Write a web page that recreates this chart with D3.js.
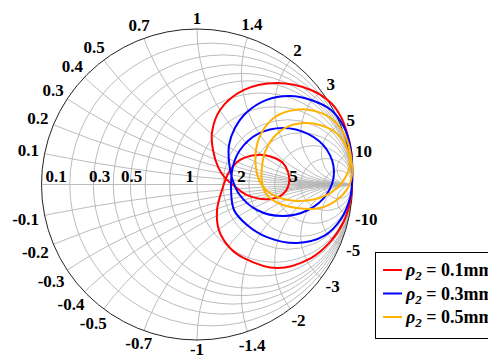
<!DOCTYPE html>
<html>
<head>
<meta charset="utf-8">
<script src="https://cdn.jsdelivr.net/npm/d3@7"></script>
<style>
  body { margin: 0; background: #fff; }
  text { font-family: "Liberation Serif", "Times New Roman", serif; font-weight: bold; }
</style>
</head>
<body>
<div id="chart"></div>
<script>
// grid values of the smith chart
var resistanceValues = [0.1, 0.2, 0.3, 0.4, 0.5, 0.7, 1, 1.4, 2, 3, 5, 10];
var reactanceValues = [0.1, 0.2, 0.3, 0.4, 0.5, 0.7, 1, 1.4, 2, 3, 5, 10];
var resistanceLabels = [0.1, 0.3, 0.5, 1, 2, 5];
var reactanceLabels = [0.1, 0.2, 0.3, 0.4, 0.5, 0.7, 1, 1.4, 2, 3, 5, 10];

// reflection coefficient traces [re, im]
var rho01 = [[0.997,0.125],[0.990,0.222],[0.965,0.331],[0.926,0.434],[0.862,0.524],[0.733,0.608],
  [0.514,0.653],[0.302,0.608],[0.148,0.479],[0.096,0.331],[0.103,0.222],[0.135,0.113],[0.180,0.042],
  [0.232,-0.003],[0.322,-0.068],[0.469,-0.093],[0.553,-0.061],[0.592,0.010],[0.585,0.080],[0.553,0.138],
  [0.482,0.177],[0.386,0.190],[0.277,0.158],[0.206,0.080],[0.161,-0.035],[0.129,-0.164],[0.141,-0.293],
  [0.212,-0.408],[0.302,-0.473],[0.514,-0.537],[0.733,-0.473],[0.862,-0.363],[0.945,-0.235],[0.990,-0.087],
  [0.998,0.016]];
var rho03 = [[0.997,0.157],[0.984,0.254],[0.945,0.370],[0.862,0.479],[0.733,0.543],[0.598,0.569],
  [0.444,0.543],[0.322,0.466],[0.244,0.363],[0.206,0.254],[0.206,0.145],[0.225,0.042],
  [0.270,-0.061],[0.386,-0.164],[0.553,-0.203],[0.714,-0.164],[0.836,-0.061],[0.881,0.080],
  [0.836,0.222],[0.714,0.325],[0.553,0.363],[0.392,0.325],[0.277,0.222],[0.232,0.119],
  [0.219,-0.035],[0.238,-0.164],[0.322,-0.260],[0.450,-0.338],[0.643,-0.376],[0.817,-0.331],
  [0.926,-0.222],[0.984,-0.087],[0.998,0.029]];
var rho05 = [[0.997,0.125],[0.965,0.286],[0.875,0.415],[0.759,0.473],[0.624,0.479],[0.502,0.434],
  [0.418,0.338],[0.379,0.222],[0.379,0.106],[0.399,0.029],[0.444,-0.035],[0.534,-0.087],[0.643,-0.106],
  [0.765,-0.093],[0.875,-0.042],[0.952,0.042],[0.984,0.138],[0.958,0.248],[0.887,0.338],[0.791,0.383],
  [0.688,0.395],[0.579,0.370],[0.489,0.299],[0.437,0.209],[0.418,0.113],[0.418,0.016],[0.444,-0.061],
  [0.521,-0.119],[0.643,-0.151],[0.791,-0.151],[0.907,-0.093],[0.977,-0.010],[0.997,0.068]];

var seriesNames = ["0.1mm", "0.3mm", "0.5mm"];
var seriesData = [rho01, rho03, rho05];
var seriesColors = ["#ff0000", "#0000ff", "#ffb300"];

var width = 488, height = 356;
var cx = 197, cy = 184.5, R = 155.5;

var svg = d3.select("#chart").append("svg")
    .attr("width", width)
    .attr("height", height);

var xs = d3.scaleLinear().domain([-1, 1]).range([cx - R, cx + R]);
var ys = d3.scaleLinear().domain([-1, 1]).range([cy + R, cy - R]);

function gamma(r, x) {
  var d = (r + 1) * (r + 1) + x * x;
  return [(r * r + x * x - 1) / d, 2 * x / d];
}

svg.append("clipPath").attr("id", "disk")
  .append("circle")
    .attr("cx", xs(0)).attr("cy", ys(0)).attr("r", xs(1) - xs(0));

var grid = svg.append("g")
    .attr("clip-path", "url(#disk)")
    .attr("fill", "none")
    .attr("stroke", "#b4b4b4")
    .attr("stroke-width", 0.9);

// constant resistance circles
grid.selectAll(".rcirc")
  .data(resistanceValues)
  .enter().append("circle")
    .attr("cx", function(v) { return xs(v / (1 + v)); })
    .attr("cy", ys(0))
    .attr("r", function(v) { return xs(1 / (1 + v)) - xs(0); });

// constant reactance arcs, both signs
var xArcs = [];
reactanceValues.forEach(function(v) { xArcs.push(v); xArcs.push(-v); });
grid.selectAll(".xcirc")
  .data(xArcs)
  .enter().append("circle")
    .attr("cx", xs(1))
    .attr("cy", function(v) { return ys(1 / v); })
    .attr("r", function(v) { return xs(1 / Math.abs(v)) - xs(0); });

grid.append("line")
    .attr("x1", xs(-1)).attr("x2", xs(1))
    .attr("y1", ys(0)).attr("y2", ys(0));

// outer boundary
svg.append("circle")
    .attr("cx", xs(0)).attr("cy", ys(0)).attr("r", xs(1) - xs(0))
    .attr("fill", "none")
    .attr("stroke", "#222")
    .attr("stroke-width", 1);

// traces
var line = d3.line()
    .x(function(d) { return xs(d[0]); })
    .y(function(d) { return ys(d[1]); })
    .curve(d3.curveCatmullRomClosed.alpha(0.5));

svg.append("g").selectAll("path")
  .data(seriesData)
  .enter().append("path")
    .attr("d", line)
    .attr("fill", "none")
    .attr("stroke", function(d, i) { return seriesColors[i]; })
    .attr("stroke-width", 2);

// resistance labels on the real axis
svg.append("g").selectAll("text")
  .data(resistanceLabels)
  .enter().append("text")
    .attr("x", function(v) { return xs(gamma(v, 0)[0]) - 3; })
    .attr("y", ys(0) - 3)
    .attr("text-anchor", "end")
    .style("font-size", "17px")
    .text(function(v) { return v; });

// reactance labels around the rim
var rimLabels = [];
reactanceLabels.forEach(function(v) { rimLabels.push(v); rimLabels.push(-v); });
svg.append("g").selectAll("text")
  .data(rimLabels)
  .enter().append("text")
    .attr("text-anchor", "middle")
    .attr("dy", "0.35em")
    .style("font-size", "17px")
    .text(function(v) { return v < 0 ? "-" + (-v) : "" + v; })
    .each(function(v) {
      var g = gamma(0, v);
      var a = Math.atan2(g[1], g[0]);
      var w = this.getComputedTextLength();
      var dist = (xs(1) - xs(0)) + 5 + Math.abs(Math.cos(a)) * w / 2 + Math.abs(Math.sin(a)) * 5.5;
      d3.select(this)
        .attr("x", xs(0) + dist * Math.cos(a))
        .attr("y", ys(0) - dist * Math.sin(a) - (v < 0 && Math.abs(v) > 0.6 && Math.abs(v) < 1.2 ? 1 : 0));
    });

// legend
var legend = svg.append("g").attr("transform", "translate(375,252)");
legend.append("rect")
    .attr("x", 0.5).attr("y", 0.5)
    .attr("width", 140).attr("height", 86)
    .attr("fill", "#fff")
    .attr("stroke", "#000");

var entry = legend.selectAll(".entry")
  .data(seriesNames)
  .enter().append("g")
    .attr("transform", function(d, i) { return "translate(0," + (18 + i * 23.5) + ")"; });

entry.append("line")
    .attr("x1", 8).attr("x2", 27)
    .attr("stroke", function(d, i) { return seriesColors[i]; })
    .attr("stroke-width", 2);

var lt = entry.append("text")
    .attr("x", 31)
    .attr("y", 6)
    .style("font-size", "18px");
lt.append("tspan").style("font-style", "italic").text("\u03c1");
lt.append("tspan").style("font-style", "italic").style("font-size", "13px").attr("dy", 4).text("2");
lt.append("tspan").attr("dy", -4).text(function(d) { return " = " + d; });
</script>
</body>
</html>
